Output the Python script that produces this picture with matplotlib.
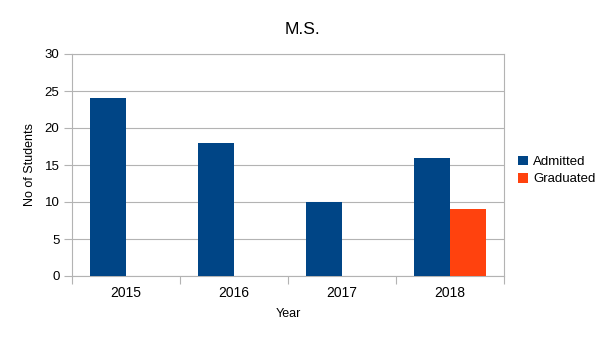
import numpy as np
import matplotlib.pyplot as plt

plt.rcParams['font.family'] = ['Liberation Sans', 'DejaVu Sans']

years = ['2015', '2016', '2017', '2018']
admitted = [24, 18, 10, 16]
graduated = [0, 0, 0, 9]

fig = plt.figure(figsize=(6.05, 3.4), dpi=100)
ax = fig.add_axes([72/605, 64/340, 432/605, 222/340])

x = np.arange(len(years))
w = 1/3
ax.bar(x - w/2, admitted, w, color='#004586', label='Admitted', zorder=3)
ax.bar(x + w/2, graduated, w, color='#ff420e', label='Graduated', zorder=3)

ax.set_xlim(-0.5, len(years) - 0.5)
ax.set_ylim(0, 30)
ax.set_yticks(np.arange(0, 31, 5))
ax.yaxis.grid(True, color='#b3b3b3', linewidth=0.8, zorder=0)

# year labels in the middle, tick marks at the category borders
ax.set_xticks(np.arange(-0.5, len(years), 1))
ax.set_xticklabels([])
ax.set_xticks(x, minor=True)
ax.set_xticklabels(years, minor=True)
ax.tick_params(axis='x', which='minor', length=0, pad=7)
ax.tick_params(axis='x', which='major', length=6, color='#b3b3b3')
ax.tick_params(axis='y', length=6, color='#b3b3b3', pad=3)
ax.tick_params(labelsize=9.5)

for s in ax.spines.values():
    s.set_color('#b3b3b3')
    s.set_linewidth(0.8)

ax.set_xlabel('Year', fontsize=9, labelpad=6)
ax.set_ylabel('No of Students', fontsize=9, labelpad=6)
fig.suptitle('M.S.', fontsize=12.5, y=0.935)

ax.legend(loc='center left', bbox_to_anchor=(1.02, 0.475), frameon=False,
          fontsize=9.5, handlelength=0.75, handleheight=0.75,
          handletextpad=0.4, labelspacing=0.35, borderaxespad=0)

fig.savefig('out.png', dpi=100)
